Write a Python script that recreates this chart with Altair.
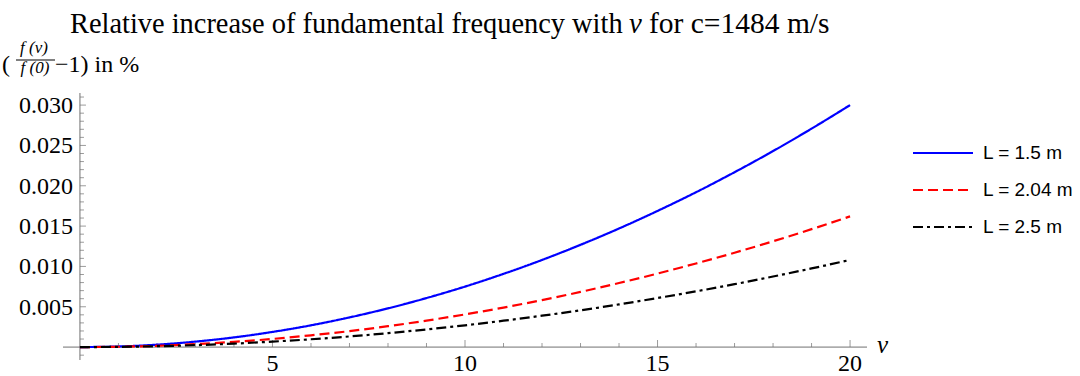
import altair as alt
import pandas as pd

# ---------------- data ----------------
nu = list(range(21))
series = ["L = 1.5 m", "L = 2.04 m", "L = 2.5 m"]
f_L150 = [0, 0.000075, 0.0003, 0.00068, 0.0012, 0.00188, 0.0027, 0.00368, 0.0048, 0.00608,
          0.0075, 0.00908, 0.0108, 0.01268, 0.0147, 0.01688, 0.0192, 0.02168, 0.0243, 0.02708, 0.0300]
f_L204 = [0, 0.00004, 0.00016, 0.00036, 0.00065, 0.00101, 0.00146, 0.00198, 0.00259, 0.00328,
          0.00405, 0.0049, 0.00583, 0.00684, 0.00794, 0.00911, 0.01037, 0.0117, 0.01312, 0.01462, 0.0162]
f_L250 = [0, 0.000027, 0.00011, 0.00024, 0.00043, 0.00068, 0.00097, 0.00132, 0.00173, 0.00219,
          0.0027, 0.00327, 0.00389, 0.00456, 0.00529, 0.00608, 0.00691, 0.0078, 0.00875, 0.00975, 0.0108]

x_major = [5, 10, 15, 20]
x_major_labels = ["5", "10", "15", "20"]
x_minor = [1, 2, 3, 4, 6, 7, 8, 9, 11, 12, 13, 14, 16, 17, 18, 19]
y_major = [0.005, 0.010, 0.015, 0.020, 0.025, 0.030]
y_major_labels = ["0.005", "0.010", "0.015", "0.020", "0.025", "0.030"]
y_minor = [-0.001, 0.001, 0.002, 0.003, 0.004, 0.006, 0.007, 0.008, 0.009, 0.011, 0.012, 0.013,
           0.014, 0.016, 0.017, 0.018, 0.019, 0.021, 0.022, 0.023, 0.024, 0.026, 0.027, 0.028,
           0.029, 0.031]

X_DOMAIN = [-0.44, 20.44]
Y_DOMAIN = [-0.0016, 0.0315]

# ---------------- styles ----------------
colors = ["#0000ff", "#ff0000", "#000000"]
dashes = [[1, 0], [10, 5], [10, 4, 3, 4]]
axc = "#707070"
serif = "Liberation Serif"
sans = "Liberation Sans"

xs = alt.Scale(domain=X_DOMAIN, nice=False, zero=False)
ys = alt.Scale(domain=Y_DOMAIN, nice=False, zero=False)
cs = alt.Scale(domain=series, range=colors)
ds = alt.Scale(domain=series, range=dashes)

rows = []
for s, vals in zip(series, [f_L150, f_L204, f_L250]):
    for n, v in zip(nu, vals):
        rows.append({"nu": n, "val": v, "series": s})
df = pd.DataFrame(rows)

curves = alt.Chart(df).mark_line(strokeWidth=2.2, interpolate="monotone").encode(
    x=alt.X("nu:Q", scale=xs, axis=None),
    y=alt.Y("val:Q", scale=ys, axis=None),
    color=alt.Color("series:N", scale=cs, legend=None),
    strokeDash=alt.StrokeDash("series:N", scale=ds, legend=None),
)

# axis lines
xaxis = alt.Chart(pd.DataFrame({"a": [X_DOMAIN[0]], "b": [X_DOMAIN[1]]})).mark_rule(
    color=axc, strokeWidth=1).encode(
    x=alt.X("a:Q", scale=xs, axis=None), x2="b:Q", y=alt.Y(datum=0, scale=ys, axis=None))
yaxis = alt.Chart(pd.DataFrame({"a": [Y_DOMAIN[0]], "b": [Y_DOMAIN[1]]})).mark_rule(
    color=axc, strokeWidth=1).encode(
    y=alt.Y("a:Q", scale=ys, axis=None), y2="b:Q", x=alt.X(datum=0, scale=xs, axis=None))

# ticks
xmaj = alt.Chart(pd.DataFrame({"v": x_major})).mark_tick(
    orient="vertical", size=7, thickness=1, color=axc, yOffset=-3.5).encode(
    x=alt.X("v:Q", scale=xs, axis=None), y=alt.Y(datum=0, scale=ys, axis=None))
xmin = alt.Chart(pd.DataFrame({"v": x_minor})).mark_tick(
    orient="vertical", size=4, thickness=1, color=axc, yOffset=-2).encode(
    x=alt.X("v:Q", scale=xs, axis=None), y=alt.Y(datum=0, scale=ys, axis=None))
ymaj = alt.Chart(pd.DataFrame({"v": y_major})).mark_tick(
    orient="horizontal", size=6, thickness=1, color=axc, xOffset=3).encode(
    y=alt.Y("v:Q", scale=ys, axis=None), x=alt.X(datum=0, scale=xs, axis=None))
ymin = alt.Chart(pd.DataFrame({"v": y_minor})).mark_tick(
    orient="horizontal", size=4, thickness=1, color=axc, xOffset=2).encode(
    y=alt.Y("v:Q", scale=ys, axis=None), x=alt.X(datum=0, scale=xs, axis=None))

# tick labels
xlab = alt.Chart(pd.DataFrame({"v": x_major, "lab": x_major_labels})).mark_text(
    font=serif, fontSize=24, color="black", align="center", baseline="alphabetic", dy=24).encode(
    x=alt.X("v:Q", scale=xs, axis=None), y=alt.Y(datum=0, scale=ys, axis=None), text="lab:N")
ylab = alt.Chart(pd.DataFrame({"v": y_major, "lab": y_major_labels})).mark_text(
    font=serif, fontSize=24, color="black", align="right", baseline="middle", dx=-7, dy=1).encode(
    y=alt.Y("v:Q", scale=ys, axis=None), x=alt.X(datum=0, scale=xs, axis=None), text="lab:N")
nulab = alt.Chart(pd.DataFrame({"t": ["ν"]})).mark_text(
    font=serif, fontSize=25, fontStyle="italic", color="black", align="left",
    baseline="alphabetic", dx=10, dy=6).encode(
    x=alt.X(datum=X_DOMAIN[1], scale=xs, axis=None), y=alt.Y(datum=0, scale=ys, axis=None), text="t:N")

# title and y label (pixel positions relative to plot origin)
def txt(t, x, y, size, font=serif, style="normal", align="left", baseline="alphabetic"):
    return alt.Chart(pd.DataFrame({"t": [t]})).mark_text(
        font=font, fontSize=size, fontStyle=style, color="black", align=align, baseline=baseline
    ).encode(x=alt.value(x), y=alt.value(y), text="t:N")

title1 = txt("Relative increase of fundamental frequency with", 7, -60, 28.4)
title2 = txt("ν", 566, -60, 28.8, style="italic")
title3 = txt("for c=1484 m/s", 586, -60, 29.5)

yl_paren = txt("(", -61, -21, 24)
yl_num = txt("f (ν)", -29, -40, 17, style="italic", align="center")
yl_den = txt("f (0)", -28, -20, 17, style="italic", align="center")
yl_bar = alt.Chart(pd.DataFrame({"t": [0]})).mark_rule(color="black", strokeWidth=1).encode(
    x=alt.value(-47), x2=alt.value(-8), y=alt.value(-33))
yl_rest = txt("−1) in %", -8, -21, 24)

# legend
lsc = alt.Scale(type="point", domain=series, range=[60, 134], padding=0)
leg_line = alt.Chart(pd.DataFrame({"series": series})).mark_rule(strokeWidth=2.2).encode(
    x=alt.value(850), x2=alt.value(910),
    y=alt.Y("series:N", scale=lsc, axis=None),
    color=alt.Color("series:N", scale=cs, legend=None),
    strokeDash=alt.StrokeDash("series:N", scale=ds, legend=None))
leg_text = alt.Chart(pd.DataFrame({"series": series})).mark_text(
    font=sans, fontSize=19, color="black", align="left", baseline="middle").encode(
    x=alt.value(920), y=alt.Y("series:N", scale=lsc, axis=None), text="series:N")

chart = alt.layer(
    xaxis, yaxis, xmin, xmaj, ymin, ymaj, curves, xlab, ylab, nulab,
    title1, title2, title3, yl_paren, yl_num, yl_den, yl_bar, yl_rest,
    leg_line, leg_text,
).resolve_scale(y="independent").properties(
    width=804, height=267,
    padding={"left": 63, "top": 93, "right": 213, "bottom": 16},
    autosize=alt.AutoSizeParams(type="none"),
    background="white",
).configure_view(stroke=None)

chart.save("out.html", embed_options={"renderer": "svg", "actions": False})
